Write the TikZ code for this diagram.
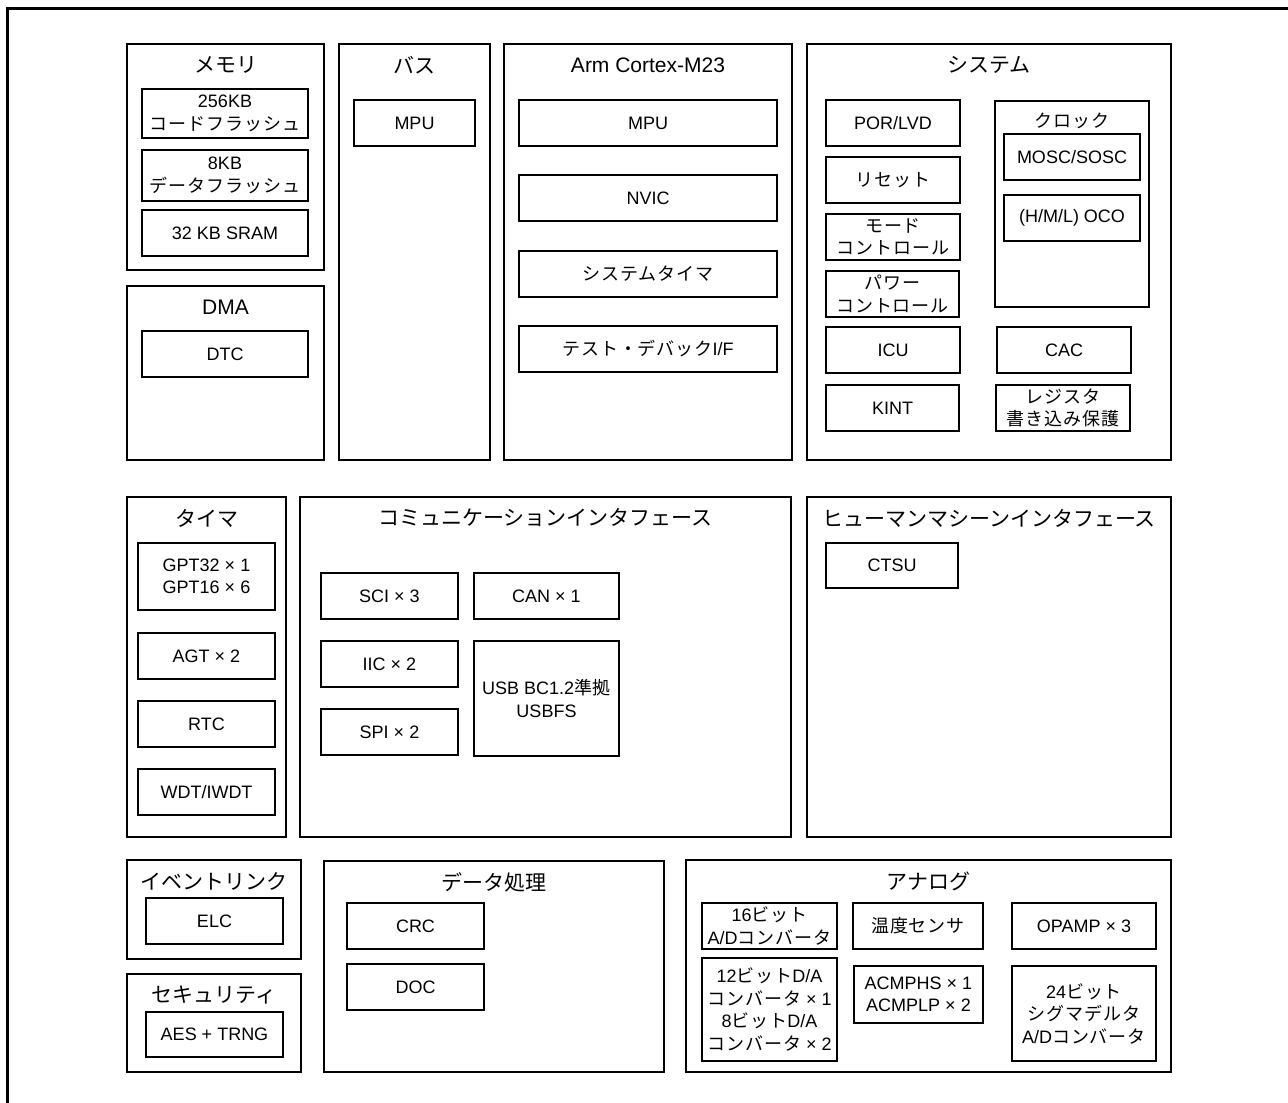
\documentclass[tikz,border=0pt]{standalone}
\usepackage{fontspec}
\setmainfont{Liberation Sans}
\newfontfamily\jpf{Noto Sans CJK JP}
\newfontfamily\jpbox[LetterSpace=5]{Noto Sans CJK JP}
\let\jpcur\jpf
\newcommand\J[1]{{\jpcur #1}}
\tikzset{
  frame/.style={draw=black, line width=1.8pt, inner sep=0pt},
  blk/.style={frame, align=center, font=\fontsize{18}{22.5}\selectfont\let\jpcur\jpbox},
  ttl/.style={inner sep=0pt, font=\fontsize{21}{25}\selectfont},
  subttl/.style={inner sep=0pt, font=\fontsize{18}{22}\selectfont\let\jpcur\jpbox},
}
\newcommand\mybox[6]{\node[blk, minimum width={#4-#2}, minimum height={#5-#3}] (#1) at ({(#2+#4)/2},{(#3+#5)/2}) {#6};}
\newcommand\mycont[6]{\node[frame, minimum width={#4-#2}, minimum height={#5-#3}] (#1) at ({(#2+#4)/2},{(#3+#5)/2}) {};
  \node[ttl] (#1-t) at ({(#2+#4)/2},{#3+21}) {#6};}
\begin{document}
\begin{tikzpicture}[x=1pt,y=-1pt]
\useasboundingbox (0,0) rectangle (1288,1103);
\draw[line width=3pt, line join=miter] (7.5,1110) -- (7.5,8) -- (1295,8);
% row 1
\mycont{mem}{127}{44}{324}{270}{\J{メモリ}}
\mybox{cf}{142}{89}{308}{138}{256KB\\\J{コードフラッシュ}}
\mybox{df}{142}{150}{308}{201}{8KB\\\J{データフラッシュ}}
\mybox{sram}{142}{210}{308}{256}{32 KB SRAM}
\mycont{dma}{127}{286}{324}{460}{DMA}
\mybox{dtc}{142}{331}{308}{377}{DTC}
\mycont{bus}{339}{44}{490}{460}{\J{バス}}
\mybox{bmpu}{354}{100}{475}{146}{MPU}
\mycont{arm}{504}{44}{792}{460}{Arm Cortex-M23}
\mybox{ampu}{519}{100}{777}{146}{MPU}
\mybox{nvic}{519}{175}{777}{221}{NVIC}
\mybox{stim}{519}{251}{777}{297}{\J{システムタイマ}}
\mybox{dbg}{519}{326}{777}{372}{\J{テスト・デバック}I/F}
\mycont{sys}{807}{44}{1171}{460}{\J{システム}}
\mybox{por}{826}{100}{960}{146}{POR/LVD}
\mybox{rst}{826}{157}{960}{203}{\J{リセット}}
\mybox{mode}{826}{214}{960}{260}{\J{モード}\\\J{コントロール}}
\mybox{pwr}{826}{271}{959}{317}{\J{パワー}\\\J{コントロール}}
\mybox{icu}{826}{327}{960}{373}{ICU}
\mybox{kint}{826}{385}{959}{431}{KINT}
\node[frame, minimum width=154, minimum height=206] (clk) at (1072,204) {};
\node[subttl] (clk-t) at (1072,121) {\J{クロック}};
\mybox{mosc}{1004}{134}{1140}{180}{MOSC/SOSC}
\mybox{oco}{1004}{195}{1140}{241}{(H/M/L) OCO}
\mybox{cac}{997}{327}{1131}{373}{CAC}
\mybox{reg}{996}{385}{1130}{431}{\J{レジスタ}\\\J{書き込み保護}}
% row 2
\mycont{tmr}{127}{497}{286}{837}{\J{タイマ}}
\mybox{gpt}{138}{543}{275}{610}{GPT32 × 1\\GPT16 × 6}
\mybox{agt}{138}{633}{275}{679}{AGT × 2}
\mybox{rtc}{138}{701}{275}{747}{RTC}
\mybox{wdt}{138}{769}{275}{815}{WDT/IWDT}
\mycont{com}{300}{497}{791}{837}{\J{コミュニケーションインタフェース}}
\mybox{sci}{321}{573}{458}{619}{SCI × 3}
\mybox{iic}{321}{641}{458}{687}{IIC × 2}
\mybox{spi}{321}{709}{458}{755}{SPI × 2}
\mybox{can}{474}{573}{619}{619}{CAN × 1}
\mybox{usb}{474}{641}{619}{756}{USB BC1.2\J{準拠}\\USBFS}
\mycont{hmi}{807}{497}{1171}{837}{\J{ヒューマンマシーンインタフェース}}
\mybox{ctsu}{826}{543}{958}{588}{CTSU}
% row 3
\mycont{evl}{127}{860}{301}{959}{\J{イベントリンク}}
\mybox{elc}{146}{898}{283}{944}{ELC}
\mycont{sec}{127}{974}{301}{1072}{\J{セキュリティ}}
\mybox{aes}{146}{1012}{283}{1057}{AES + TRNG}
\mycont{dat}{324}{861}{664}{1072}{\J{データ処理}}
\mybox{crc}{347}{903}{484}{949}{CRC}
\mybox{doc}{347}{964}{484}{1010}{DOC}
\mycont{ana}{686}{860}{1171}{1072}{\J{アナログ}}
\mybox{ad16}{702}{903}{837}{949}{16\J{ビット}\\A/D\J{コンバータ}}
\mybox{da}{702}{958}{837}{1061}{12\J{ビット}D/A\\\J{コンバータ} × 1\\8\J{ビット}D/A\\\J{コンバータ} × 2}
\mybox{temp}{853}{903}{983}{949}{\J{温度センサ}}
\mybox{acmp}{854}{966}{983}{1023}{ACMPHS × 1\\ACMPLP × 2}
\mybox{opamp}{1012}{903}{1156}{949}{OPAMP × 3}
\mybox{sdad}{1012}{966}{1156}{1061}{24\J{ビット}\\\J{シグマデルタ}\\A/D\J{コンバータ}}
\end{tikzpicture}
\end{document}
